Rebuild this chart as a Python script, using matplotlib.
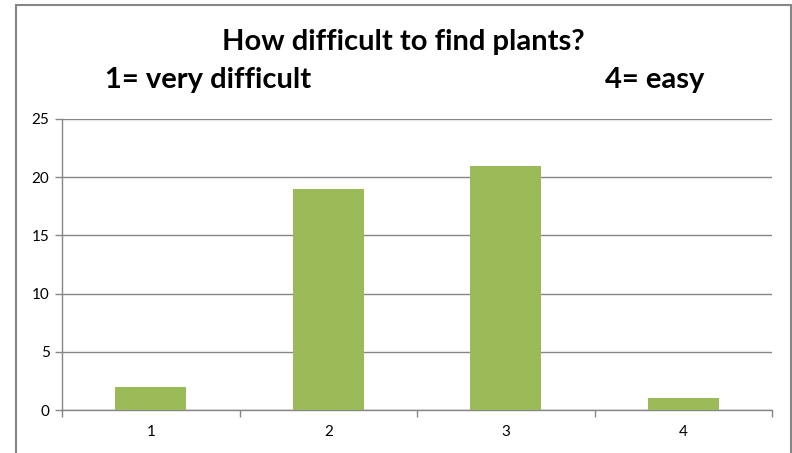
import matplotlib
matplotlib.use("Agg")
import matplotlib.pyplot as plt
from matplotlib.patches import Rectangle
from matplotlib.ticker import FixedLocator

categories = ["1", "2", "3", "4"]
counts = [2, 19, 21, 1]
y_ticks = [0, 5, 10, 15, 20, 25]

plt.rcParams["font.family"] = ["Lato", "DejaVu Sans"]

W, H = 792, 453
fig = plt.figure(figsize=(W / 100, H / 100), dpi=100)

# chart area border (Excel style)
fig.patches.append(Rectangle((16 / W, -0.05), (791 - 16) / W, 1.05 - 5 / H,
                             transform=fig.transFigure, fill=False,
                             edgecolor="#868686", linewidth=1.5))

ax = fig.add_axes([62 / W, 1 - 410 / H, (772 - 62) / W, (410 - 119) / H])

x = list(range(1, len(categories) + 1))
ax.bar(x, counts, width=0.4, color="#9BBB59", zorder=3)

ax.set_xlim(0.5, len(categories) + 0.5)
ax.set_ylim(0, 25)
ax.set_yticks(y_ticks)
ax.set_xticks(x)
ax.set_xticklabels(categories)
ax.xaxis.set_minor_locator(FixedLocator([i + 0.5 for i in range(len(categories) + 1)]))
ax.tick_params(axis="x", which="major", length=0, pad=11, labelsize=11)
ax.tick_params(axis="x", which="minor", length=5, color="#868686", width=1)
ax.tick_params(axis="y", length=5, color="#868686", width=1, pad=4, labelsize=11)

ax.grid(axis="y", color="#868686", linewidth=1, zorder=0)
for side in ["top", "right"]:
    ax.spines[side].set_visible(False)
for side in ["left", "bottom"]:
    ax.spines[side].set_color("#868686")
    ax.spines[side].set_linewidth(1)

fig.text(403 / W, 1 - 42 / H, "How difficult to find plants?", ha="center",
         va="center", fontsize=21, fontweight="bold")
fig.text(105 / W, 1 - 80 / H, "1= very difficult", ha="left",
         va="center", fontsize=21, fontweight="bold")
fig.text(704 / W, 1 - 80 / H, "4= easy", ha="right",
         va="center", fontsize=21, fontweight="bold")

fig.savefig("out.png", dpi=100)
